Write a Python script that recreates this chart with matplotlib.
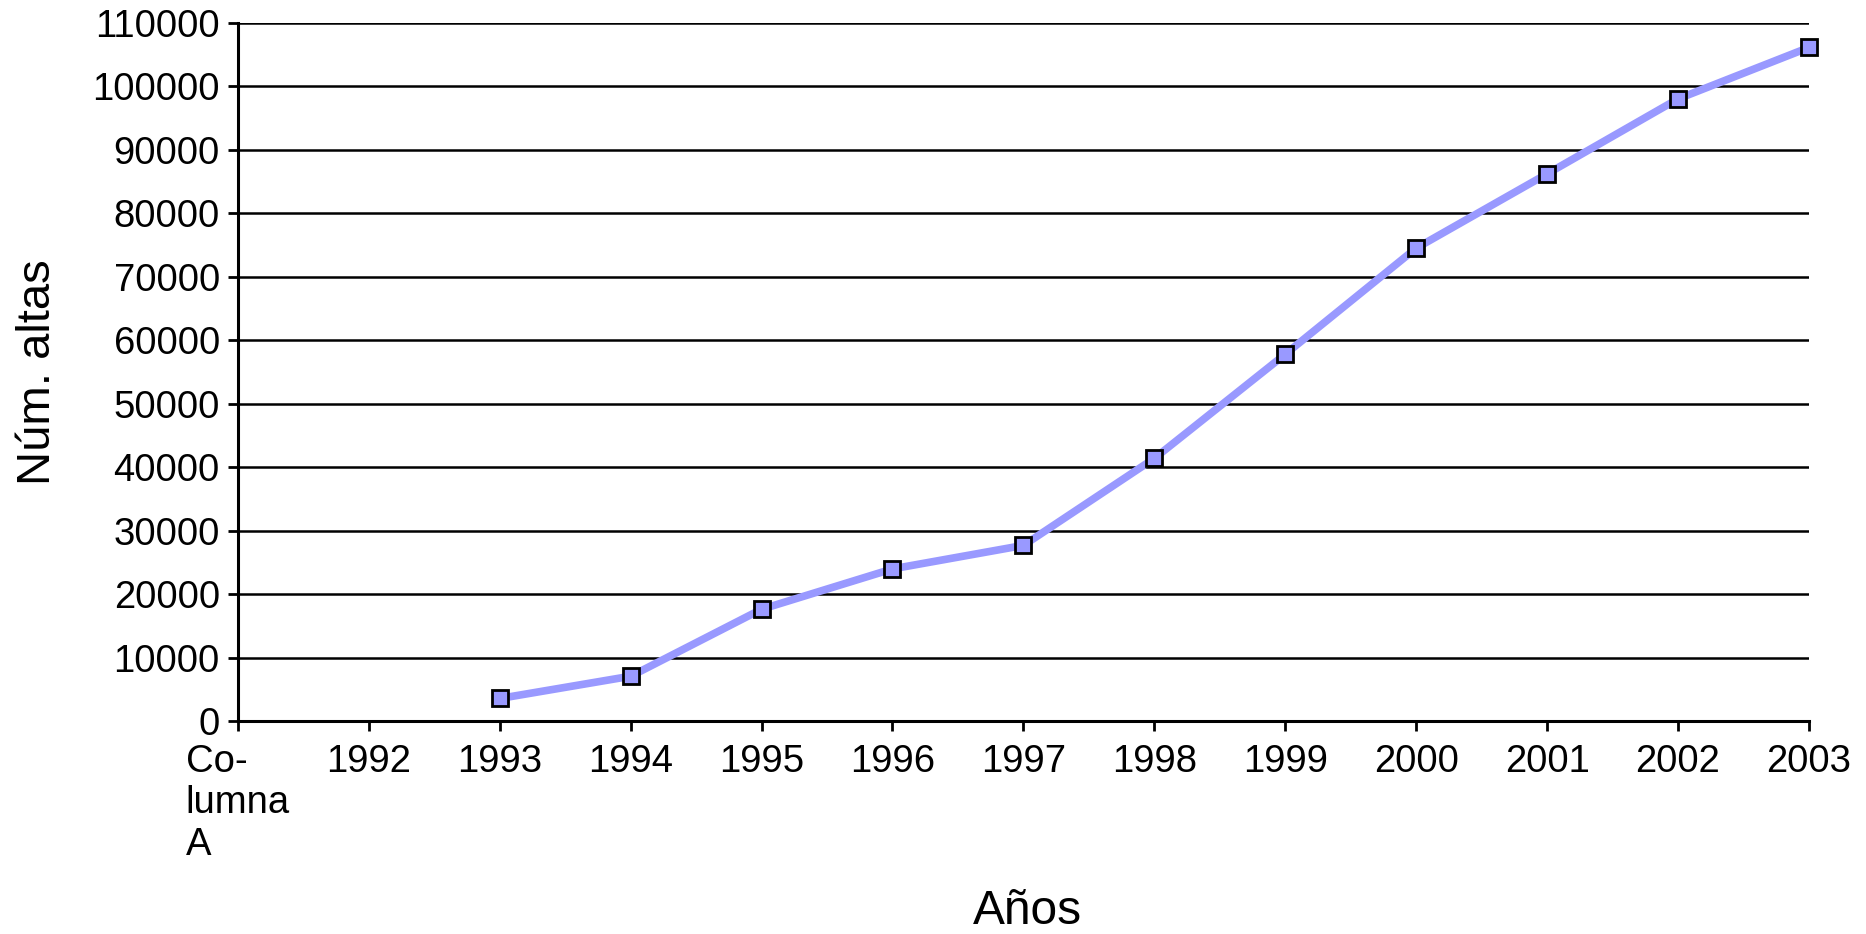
import matplotlib
matplotlib.use("Agg")
from matplotlib import pyplot as plt

plt.rcParams['font.family'] = ['Liberation Sans', 'DejaVu Sans']

categories = ["Co-\nlumna\nA", "1992", "1993", "1994", "1995", "1996",
              "1997", "1998", "1999", "2000", "2001", "2002", "2003"]
# valores (None = sin dato)
altas = [None, None, 3600, 7100, 17650, 24000, 27700, 41400,
         57800, 74500, 86200, 98000, 106100]

yticks = list(range(0, 110001, 10000))

fig = plt.figure(figsize=(18.66, 9.34), dpi=100)
ax = fig.add_axes([0.1275, 0.2277, 0.8419, 0.748])

xs = [i for i, v in enumerate(altas) if v is not None]
ys = [v for v in altas if v is not None]
ax.plot(xs, ys, color="#9999ff", linewidth=5.5, marker="s", markersize=11,
        markerfacecolor="#9999ff", markeredgecolor="black", markeredgewidth=2,
        zorder=3, clip_on=False)

ax.set_xlim(0, len(categories) - 1)
ax.set_ylim(0, 110000)
ax.set_yticks(yticks)
ax.set_yticklabels([str(t) for t in yticks])
ax.set_xticks(range(len(categories)))
ax.set_xticklabels(categories, multialignment="left")

ax.yaxis.grid(True, color="black", linewidth=1.8)
ax.set_axisbelow(True)
for s in ["top", "right"]:
    ax.spines[s].set_visible(False)
ax.spines["left"].set_linewidth(2.2)
ax.spines["bottom"].set_linewidth(2.2)
ax.tick_params(axis="both", length=7, width=2, direction="out", labelsize=27.5)
ax.tick_params(axis="y", pad=6)
ax.tick_params(axis="x", pad=9)

fig.text(0.0205, 0.6016, "Núm. altas", rotation=90, fontsize=34,
         ha="center", va="center")
fig.text(0.5505, 0.011, "Años", fontsize=34.5, ha="center", va="baseline")

fig.savefig("out.png", dpi=100)
